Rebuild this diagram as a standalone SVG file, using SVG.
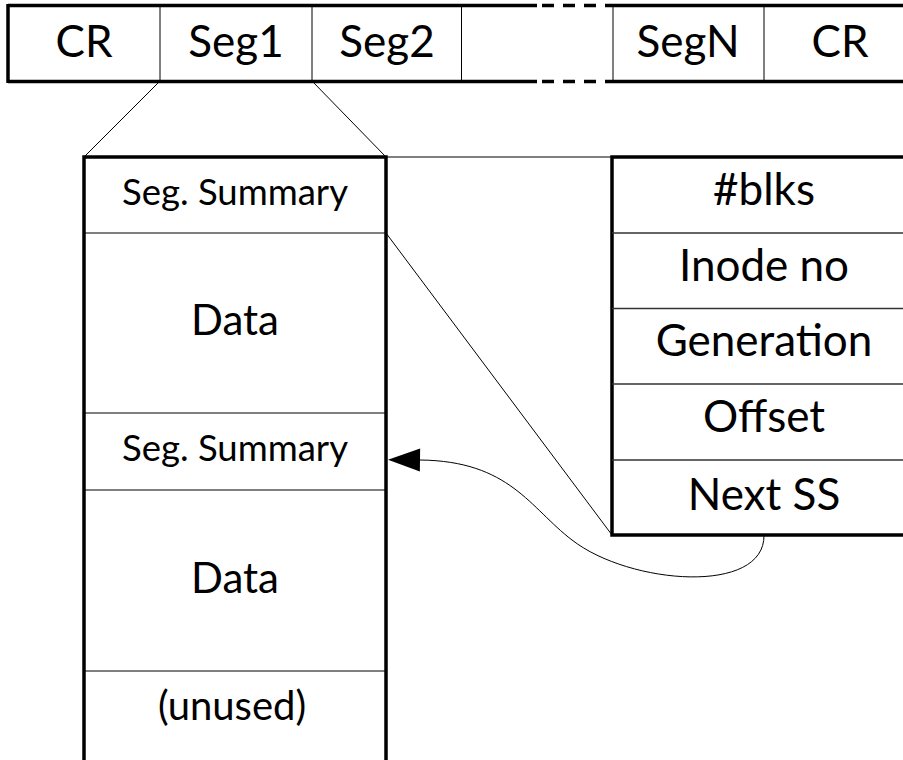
<svg xmlns="http://www.w3.org/2000/svg" width="903" height="760" viewBox="0 0 903 760">
  <style>
    .thick { stroke: #000; stroke-width: 3.5; fill: none; }
    .thin { stroke: #000; stroke-width: 1; fill: none; }
    .div { stroke: #333; stroke-width: 1.5; fill: none; }
    text { font-family: Lato, "Open Sans", sans-serif; fill: #000; text-anchor: middle; }
    .big { font-size: 44px; }
    .mid { font-size: 42px; }
    .small { font-size: 36.5px; }
    .note { font-size: 40px; }
  </style>
  <defs>
    <marker id="head" markerUnits="userSpaceOnUse" markerWidth="34" markerHeight="25" viewBox="0 0 34 25" refX="1" refY="12.5" orient="auto">
      <path d="M1,1 L33,12.5 L1,24 z" fill="#000"/>
    </marker>
  </defs>
  <rect width="903" height="760" fill="#fff"/>

  <!-- disk layout bar -->
  <g id="disk">
    <path class="thick" d="M8,5.5 H537 M605,5.5 H910 M8,81.5 H537 M613,81.5 H910 M8,4 V83"/>
    <path class="thick" d="M542,5.5 H605 M542,81.5 H613" stroke-dasharray="12 9"/>
    <path class="thin" d="M160,5 V81 M312,5 V81 M461.5,5 V81 M613,5 V81 M764,5 V81"/>
    <text class="big" x="84" y="57">CR</text>
    <text class="big" x="236" y="57">Seg1</text>
    <text class="big" x="387" y="57">Seg2</text>
    <text class="big" x="688" y="57">SegN</text>
    <text class="big" x="840" y="57">CR</text>
  </g>

  <!-- one segment, expanded -->
  <g id="segment">
    <path class="thick" d="M84,770 V157 H386 V770"/>
    <path class="thin" d="M84,233 H386 M84,413 H386 M84,490 H386 M84,671 H386"/>
    <text class="small" x="235" y="205">Seg. Summary</text>
    <text class="mid" x="235" y="335">Data</text>
    <text class="small" x="235" y="461">Seg. Summary</text>
    <text class="mid" x="235" y="593">Data</text>
    <text class="note" x="232" y="720">(unused)</text>
  </g>

  <!-- segment summary entry -->
  <g id="summary">
    <path class="thick" d="M910,157 H612 V535 H910"/>
    <path class="div" d="M612,233 H910 M612,308.5 H910 M612,384 H910 M612,460 H910"/>
    <text class="big" x="764" y="205">#blks</text>
    <text class="big" x="764" y="281">Inode no</text>
    <text class="big" x="764" y="356">Generation</text>
    <text class="big" x="764" y="432">Offset</text>
    <text class="big" x="764" y="510">Next SS</text>
  </g>

  <!-- connectors -->
  <g id="connectors">
    <path class="thin" d="M160,81 L84,157 M312,81 L386,157"/>
    <path class="thin" d="M386,157 H612 M386,233 L612,535"/>
    <path class="thin" d="M764,535 C765,595 630,585 572,540 C530,508 510,461 420,460" marker-end="url(#head)"/>
  </g>
</svg>
